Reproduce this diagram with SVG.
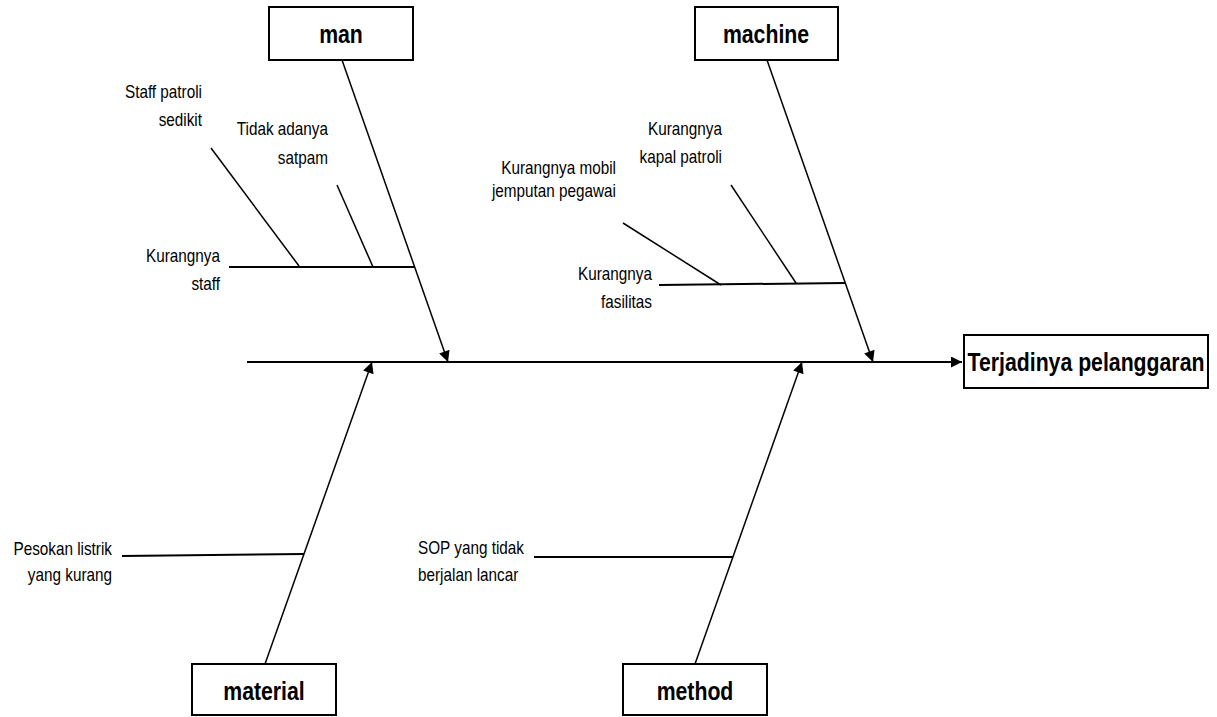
<svg xmlns="http://www.w3.org/2000/svg" width="1217" height="717" viewBox="0 0 1217 717">
  <style>
    .box { fill: #ffffff; stroke: #000000; stroke-width: 2; }
    .title { font-family: "Liberation Sans", Arial, sans-serif; font-weight: bold; font-size: 25px; fill: #000000; text-anchor: middle; }
    .lbl { font-family: "Liberation Sans", Arial, sans-serif; font-size: 18px; fill: #000000; text-anchor: end; }
    .lbl-start { text-anchor: start; }
    .spine { stroke: #000000; stroke-width: 2; fill: none; }
    .bone { stroke: #000000; stroke-width: 1.5; fill: none; }
    .sub { stroke: #000000; stroke-width: 2; fill: none; }
    .twig { stroke: #000000; stroke-width: 1.5; fill: none; }
  </style>
  <defs>
    <marker id="arrowBig" viewBox="0 0 10 10" refX="10" refY="5" markerWidth="14" markerHeight="11" markerUnits="userSpaceOnUse" orient="auto">
      <path d="M0,0 L10,5 L0,10 z" fill="#000000"/>
    </marker>
  </defs>

  <rect width="1217" height="717" fill="#ffffff"/>

  <!-- connectors: spine, category bones, cause lines -->
  <g id="connectors">
    <line class="spine" x1="247" y1="362" x2="962" y2="362" marker-end="url(#arrowBig)"/>

    <line class="bone" x1="342" y1="60" x2="448" y2="362" marker-end="url(#arrowBig)"/>
    <line class="bone" x1="767" y1="60" x2="873" y2="362" marker-end="url(#arrowBig)"/>
    <line class="bone" x1="265" y1="664" x2="372" y2="362" marker-end="url(#arrowBig)"/>
    <line class="bone" x1="695" y1="664" x2="802" y2="362" marker-end="url(#arrowBig)"/>

    <!-- man causes -->
    <line class="sub" x1="229" y1="267" x2="414" y2="267"/>
    <line class="twig" x1="211" y1="148" x2="299" y2="266"/>
    <line class="twig" x1="337" y1="185" x2="373" y2="267"/>

    <!-- machine causes -->
    <line class="sub" x1="659" y1="285" x2="845" y2="283"/>
    <line class="twig" x1="623" y1="223" x2="721" y2="285"/>
    <line class="twig" x1="731" y1="185" x2="796" y2="283"/>

    <!-- material cause -->
    <line class="sub" x1="122" y1="556" x2="304" y2="554"/>

    <!-- method cause -->
    <line class="sub" x1="534" y1="557" x2="733" y2="557"/>
  </g>

  <!-- labels are drawn with a narrowed sans face (x scaled to 0.85) -->

  <!-- category: man -->
  <g id="node-man">
    <rect class="box" x="269" y="7" width="144" height="53"/>
    <text class="title" transform="translate(341 43) scale(0.85 1)">man</text>
    <text class="lbl" transform="translate(202 98) scale(0.85 1)">Staff patroli</text>
    <text class="lbl" transform="translate(202 126) scale(0.85 1)">sedikit</text>
    <text class="lbl" transform="translate(328 135) scale(0.85 1)">Tidak adanya</text>
    <text class="lbl" transform="translate(328 164) scale(0.85 1)">satpam</text>
    <text class="lbl" transform="translate(220 262) scale(0.85 1)">Kurangnya</text>
    <text class="lbl" transform="translate(220 290) scale(0.85 1)">staff</text>
  </g>

  <!-- category: machine -->
  <g id="node-machine">
    <rect class="box" x="695" y="7" width="143" height="53"/>
    <text class="title" transform="translate(766 43) scale(0.85 1)">machine</text>
    <text class="lbl" transform="translate(722 135) scale(0.85 1)">Kurangnya</text>
    <text class="lbl" transform="translate(722 163) scale(0.85 1)">kapal patroli</text>
    <text class="lbl" transform="translate(616 174) scale(0.85 1)">Kurangnya mobil</text>
    <text class="lbl" transform="translate(616 197) scale(0.85 1)">jemputan pegawai</text>
    <text class="lbl" transform="translate(652 280) scale(0.85 1)">Kurangnya</text>
    <text class="lbl" transform="translate(652 308) scale(0.85 1)">fasilitas</text>
  </g>

  <!-- category: material -->
  <g id="node-material">
    <rect class="box" x="192" y="664" width="144" height="51"/>
    <text class="title" transform="translate(264 700) scale(0.85 1)">material</text>
    <text class="lbl" transform="translate(112 555) scale(0.85 1)">Pesokan listrik</text>
    <text class="lbl" transform="translate(112 581) scale(0.85 1)">yang kurang</text>
  </g>

  <!-- category: method -->
  <g id="node-method">
    <rect class="box" x="623" y="664" width="144" height="51"/>
    <text class="title" transform="translate(695 700) scale(0.85 1)">method</text>
    <text class="lbl lbl-start" transform="translate(418 554) scale(0.85 1)">SOP yang tidak</text>
    <text class="lbl lbl-start" transform="translate(418 581) scale(0.85 1)">berjalan lancar</text>
  </g>

  <!-- effect -->
  <g id="node-effect">
    <rect class="box" x="964" y="335" width="244" height="53"/>
    <text class="title" transform="translate(1086 371) scale(0.85 1)">Terjadinya pelanggaran</text>
  </g>
</svg>
